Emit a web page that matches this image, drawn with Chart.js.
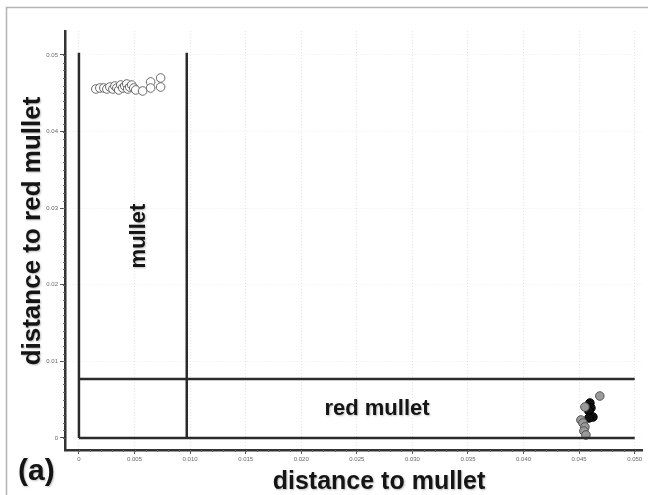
<!DOCTYPE html>
<html><head><meta charset="utf-8">
<script src="https://cdn.jsdelivr.net/npm/chart.js@4/dist/chart.umd.min.js"></script>
<style>html,body{margin:0;padding:0;background:#fff}#wrap{width:648px;height:495px}</style>
</head><body><div id="wrap"><canvas id="c" width="648" height="495"></canvas></div>
<script>
// ---- data ----
const xTicks = [0,0.005,0.010,0.015,0.020,0.025,0.030,0.035,0.040,0.045,0.050];
const xTickLabels = ["0","0.005","0.010","0.015","0.020","0.025","0.030","0.035","0.040","0.045","0.050"];
const yTicks = [0,0.01,0.02,0.03,0.04,0.05];
const yTickLabels = ["0","0.01","0.02","0.03","0.04","0.05"];

const mulletX = [0.00152,0.00188,0.00224,0.00251,0.00278,0.00305,0.00323,0.00341,0.00358,0.00376,0.00394,0.00412,0.00430,0.00439,0.00457,0.00475,0.00493,0.00511,0.00573,0.00645,0.00645,0.00735,0.00735];
const mulletY = [0.04556,0.04569,0.04569,0.04556,0.04582,0.04556,0.04595,0.04569,0.04543,0.04608,0.04569,0.04595,0.04621,0.04556,0.04582,0.04608,0.04569,0.04543,0.04530,0.04648,0.04569,0.04700,0.04582];

const redGreyX = [0.04686,0.04552,0.04516,0.04534,0.04552,0.04543,0.04561];
const redGreyY = [0.00548,0.00405,0.00235,0.00196,0.00144,0.00091,0.00039];
const redBlackX = [0.04597,0.04606,0.04588,0.04624,0.04588];
const redBlackY = [0.00457,0.00392,0.00352,0.00274,0.00261];

const boundaryMullet = 0.0097;     // vertical separator (distance to mullet)
const boundaryRed = 0.0077;        // horizontal separator (distance to red mullet)
const frameTop = 0.0503;
const frameRight = 0.050;

const toPts = (xs, ys) => xs.map((x, i) => ({x: x, y: ys[i]}));
const lineStyle = {type:'line', showLine:true, pointRadius:0, borderColor:'#2b2b2b', borderWidth:2.5, fill:false};

const deco = {
  id:'deco',
  beforeDraw(chart){
    const ctx = chart.ctx;
    ctx.save();
    ctx.strokeStyle = '#b4b4b4';
    ctx.lineWidth = 1.5;
    ctx.strokeRect(6.5, 7.5, 700, 600);
    ctx.restore();
  },
  afterDraw(chart){
    const ctx = chart.ctx;
    const xs = chart.scales.x, ys = chart.scales.y;
    const a = chart.chartArea;
    ctx.save();
    // minor ticks
    ctx.strokeStyle = '#666';
    ctx.lineWidth = 1;
    ctx.beginPath();
    for (let k = 0; k <= 50; k++) {
      const px = Math.round(xs.getPixelForValue(k / 1000)) + 0.5;
      ctx.moveTo(px, a.bottom); ctx.lineTo(px, a.bottom + 2);
      const py = Math.round(ys.getPixelForValue(k / 1000)) + 0.5;
      ctx.moveTo(a.left - 2, py); ctx.lineTo(a.left, py);
    }
    ctx.stroke();
    // texts
    ctx.fillStyle = '#151515';
    ctx.shadowColor = 'rgba(0,0,0,0.25)';
    ctx.shadowBlur = 2;
    ctx.shadowOffsetX = 1; ctx.shadowOffsetY = 1;
    ctx.textAlign = 'center';
    ctx.textBaseline = 'middle';
    ctx.font = 'bold 25px "Liberation Sans", Arial, sans-serif';
    ctx.fillText('distance to mullet', 379, 482);
    ctx.save();
    ctx.translate(33, 231);
    ctx.rotate(-Math.PI / 2);
    ctx.font = 'bold 26px "Liberation Sans", Arial, sans-serif';
    ctx.fillText('distance to red mullet', 0, 0);
    ctx.restore();
    ctx.font = 'bold 22px "Liberation Sans", Arial, sans-serif';
    ctx.fillText('red mullet', 377, 409);
    ctx.save();
    ctx.translate(139, 236);
    ctx.rotate(-Math.PI / 2);
    ctx.fillText('mullet', 0, 0);
    ctx.restore();
    ctx.font = 'bold 30px "Liberation Sans", Arial, sans-serif';
    ctx.textAlign = 'left';
    ctx.fillText('(a)', 18, 472);
    ctx.restore();
  }
};

new Chart(document.getElementById('c'), {
  type: 'scatter',
  data: {
    datasets: [
      Object.assign({data: [{x:0,y:0},{x:0,y:frameTop}]}, lineStyle),
      Object.assign({data: [{x:boundaryMullet,y:0},{x:boundaryMullet,y:frameTop}]}, lineStyle),
      Object.assign({data: [{x:0,y:boundaryRed},{x:frameRight,y:boundaryRed}]}, lineStyle),
      Object.assign({data: [{x:0,y:0},{x:frameRight,y:0}]}, lineStyle),
      {label:'mullet', data: toPts(mulletX, mulletY), pointRadius:4.3, pointBackgroundColor:'rgba(255,255,255,0.9)', pointBorderColor:'#6a6a6a', pointBorderWidth:1},
      {label:'red mullet grey', data: toPts(redGreyX, redGreyY), pointRadius:4.3, pointBackgroundColor:'#9a9a9a', pointBorderColor:'#555', pointBorderWidth:1},
      {label:'red mullet black', data: toPts(redBlackX, redBlackY), pointRadius:4.3, pointBackgroundColor:'#111', pointBorderColor:'#000', pointBorderWidth:1}
    ]
  },
  options: {
    responsive:false, animation:false,
    layout:{padding:{left:0, top:31, right:3, bottom:0}},
    plugins:{legend:{display:false}, tooltip:{enabled:false}},
    scales:{
      x:{
        type:'linear', min:-0.001254, max:0.05072,
        afterBuildTicks(s){ s.ticks = xTicks.map(v => ({value:v})); },
        afterFit(s){ s.height = 45; },
        ticks:{font:{size:6, family:'"Liberation Sans", Arial, sans-serif'}, color:'#666', padding:2, maxRotation:0, autoSkip:false,
          callback(v, i){ return xTickLabels[i]; }},
        grid:{color:'#e4e4e4', lineWidth:1, tickColor:'#555', tickLength:4, tickBorderDash:[]},
        border:{color:'#333', width:2.5, dash:[1,2]}
      },
      y:{
        type:'linear', min:-0.001567, max:0.05313,
        afterBuildTicks(s){ s.ticks = yTicks.map(v => ({value:v})); },
        afterFit(s){ s.width = 65; },
        ticks:{font:{size:6, family:'"Liberation Sans", Arial, sans-serif'}, color:'#666', padding:2, autoSkip:false,
          callback(v, i){ return yTickLabels[i]; }},
        grid:{color:'#ececec', lineWidth:1, tickColor:'#555', tickLength:5, tickBorderDash:[]},
        border:{color:'#333', width:2.5, dash:[1,2]}
      }
    }
  },
  plugins:[deco]
});
</script></body></html>
